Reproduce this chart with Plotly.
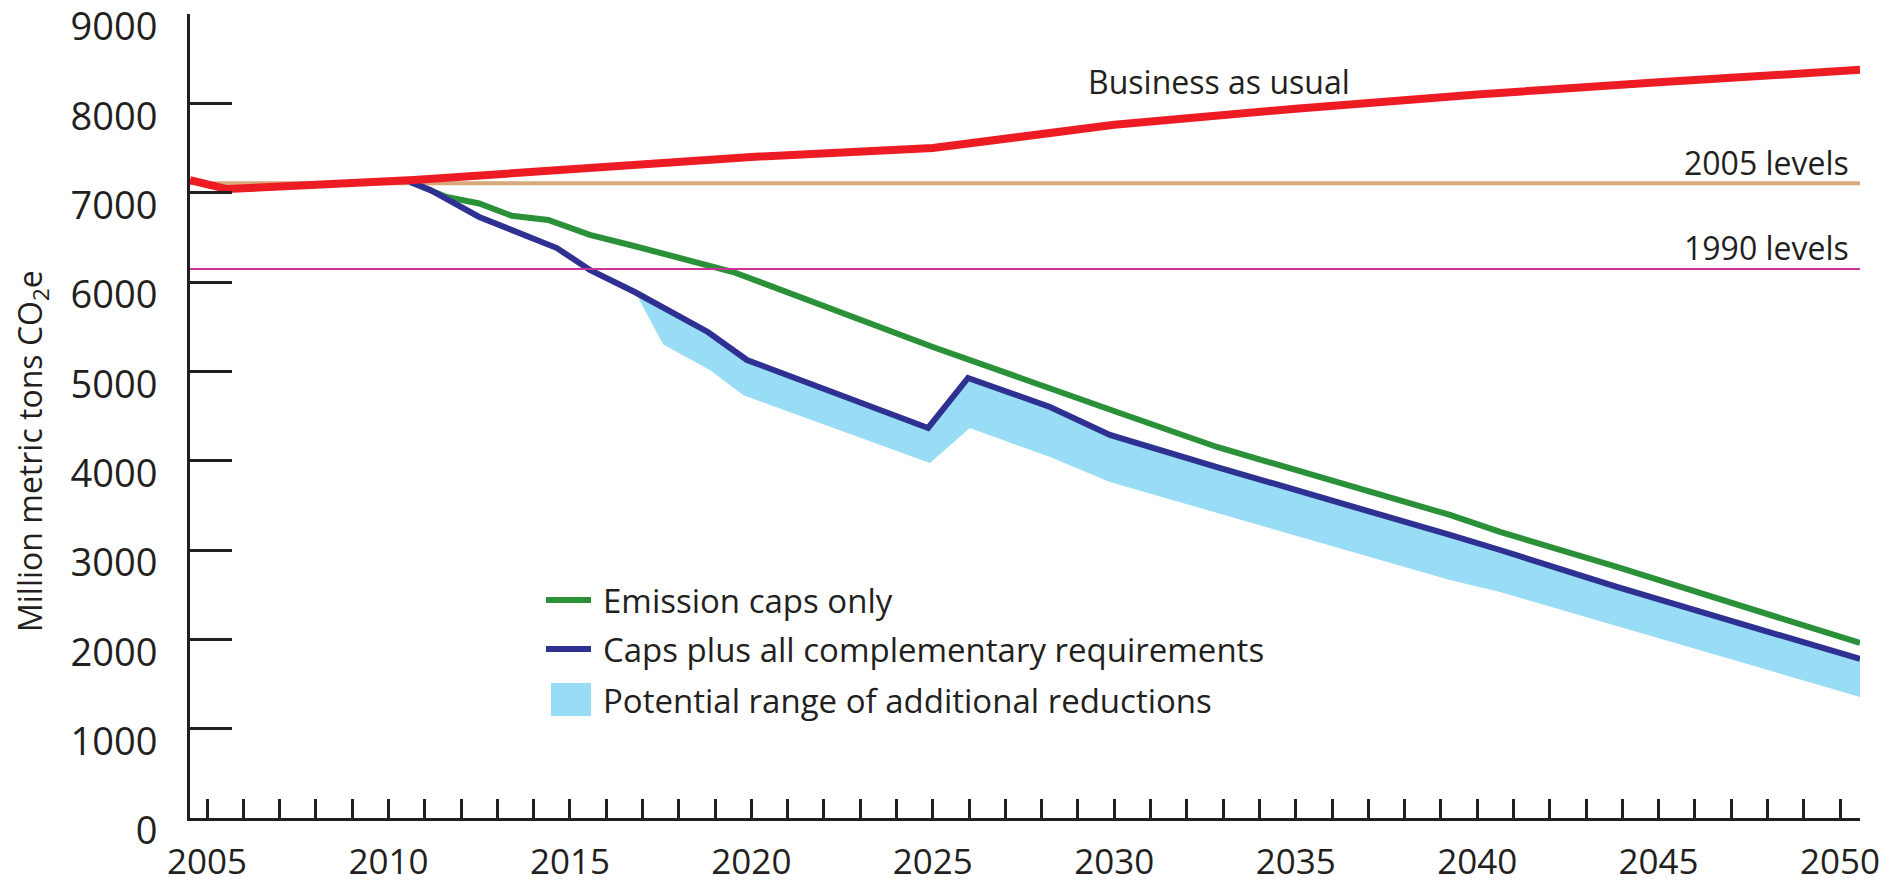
import plotly.graph_objects as go

# ---------------- data ----------------
bau_years = [2004.53, 2005.55, 2010.7, 2015, 2018, 2020, 2025, 2030, 2035, 2040, 2045, 2050.55]
bau_values = [7140, 7040, 7142, 7260, 7347, 7400, 7500, 7760, 7940, 8100, 8235, 8375]

level_years = [2004.53, 2050.55]
level_2005 = [7105, 7105]
level_1990 = [6145, 6145]

caps_years = [2010.6, 2011.6, 2012.5, 2013.4, 2014.4, 2014.8, 2015.55, 2016.66, 2018.03,
              2019.5, 2025.0, 2028.23, 2030.07, 2032.83, 2036.96, 2039.25, 2040.63,
              2043.85, 2050.55]
caps_values = [7120, 6952, 6879, 6741, 6694, 6638, 6527, 6414, 6269,
               6112, 5273, 4820, 4545, 4153, 3672, 3392, 3202,
               2810, 1959]

comp_years = [2010.6, 2011.15, 2012.5, 2013.9, 2014.64, 2015.55, 2016.8, 2018.8, 2019.88,
              2024.87, 2025.97, 2028.23, 2029.88, 2032.83, 2036.5, 2039.25, 2040.63,
              2043.85, 2050.55]
comp_values = [7120, 7030, 6728, 6504, 6380, 6135, 5885, 5441, 5127,
               4366, 4926, 4601, 4288, 3929, 3504, 3168, 3000,
               2586, 1780]

range_years = [2016.8, 2017.57, 2018.86, 2019.77, 2024.92, 2026.02, 2028.23, 2029.88,
               2039.25, 2040.63, 2050.55]
range_low = [5885, 5300, 5015, 4735, 3974, 4366, 4041, 3761, 2664, 2530, 1355]

x_tick_years = list(range(2005, 2051, 5))
y_tick_values = list(range(0, 9001, 1000))

legend_labels = ["Emission caps only",
                 "Caps plus all complementary requirements",
                 "Potential range of additional reductions"]

# ---------------- styles ----------------
INK = "#231f20"
RED = "#ed1c24"
GREEN = "#2b9139"
BLUE = "#2e3192"
BAND = "#98dcf6"
TAN = "#d6a87c"
MAGENTA = "#cc3399"
FONT = "Open Sans"

W, H = 1903, 889
L, R, T, B = 190, 43, 14, 71
PW, PH = W - L - R, H - T - B


def px_x(px):
    return (px - L) / PW


def px_y(py):
    return (H - B - py) / PH


# band polygon: lower edge forward, blue (upper) edge backward
upper = [(yr, v) for yr, v in zip(comp_years, comp_values) if yr >= range_years[0]]
band_x = range_years + [u[0] for u in upper][::-1]
band_y = range_low + [u[1] for u in upper][::-1]

fig = go.Figure()
fig.add_trace(go.Scatter(x=band_x, y=band_y, fill="toself", fillcolor=BAND,
                         mode="lines", line=dict(width=0), name=legend_labels[2],
                         hoverinfo="skip"))
fig.add_trace(go.Scatter(x=level_years, y=level_2005, mode="lines",
                         line=dict(color=TAN, width=4), name="2005 levels"))
fig.add_trace(go.Scatter(x=caps_years, y=caps_values, mode="lines",
                         line=dict(color=GREEN, width=6), name=legend_labels[0]))
fig.add_trace(go.Scatter(x=comp_years, y=comp_values, mode="lines",
                         line=dict(color=BLUE, width=6), name=legend_labels[1]))
fig.add_trace(go.Scatter(x=level_years, y=level_1990, mode="lines",
                         line=dict(color=MAGENTA, width=2), name="1990 levels"))
fig.add_trace(go.Scatter(x=bau_years, y=bau_values, mode="lines",
                         line=dict(color=RED, width=8), name="Business as usual"))

annotations = [
    dict(text="Business as usual", x=px_x(1219), y=px_y(82), xref="paper", yref="paper",
         xanchor="center", yanchor="middle", showarrow=False,
         font=dict(family=FONT, size=32, color=INK)),
    dict(text="2005 levels", x=px_x(1851), y=px_y(163), xref="paper", yref="paper",
         xanchor="right", yanchor="middle", showarrow=False,
         font=dict(family=FONT, size=32, color=INK)),
    dict(text="1990 levels", x=px_x(1851), y=px_y(247), xref="paper", yref="paper",
         xanchor="right", yanchor="middle", showarrow=False,
         font=dict(family=FONT, size=32, color=INK)),
    dict(text="Million metric tons CO<sub>2</sub>e", x=px_x(32), y=px_y(451),
         xref="paper", yref="paper", xanchor="center", yanchor="middle",
         textangle=-90, showarrow=False, font=dict(family=FONT, size=32, color=INK)),
]

# custom legend
leg_rows = [600, 649, 700]
shapes = [
    dict(type="line", xref="paper", yref="paper", x0=px_x(546), x1=px_x(591),
         y0=px_y(leg_rows[0]), y1=px_y(leg_rows[0]), line=dict(color=GREEN, width=6)),
    dict(type="line", xref="paper", yref="paper", x0=px_x(546), x1=px_x(591),
         y0=px_y(leg_rows[1]), y1=px_y(leg_rows[1]), line=dict(color=BLUE, width=6)),
    dict(type="rect", xref="paper", yref="paper", x0=px_x(551), x1=px_x(591),
         y0=px_y(716), y1=px_y(683), line=dict(width=0), fillcolor=BAND),
]
for row, label in zip(leg_rows, legend_labels):
    annotations.append(dict(text=label, x=px_x(601), y=px_y(row), xref="paper", yref="paper",
                            xanchor="left", yanchor="middle", showarrow=False,
                            font=dict(family=FONT, size=33, color=INK)))

fig.update_layout(
    width=W, height=H,
    margin=dict(l=L, r=R, t=T, b=B, autoexpand=False),
    paper_bgcolor="white", plot_bgcolor="white",
    showlegend=False,
    annotations=annotations,
    shapes=shapes,
    xaxis=dict(range=[2004.53, 2050.55], tickmode="array", tickvals=x_tick_years,
               ticktext=[str(v) for v in x_tick_years],
               ticks="inside", ticklen=19, tickwidth=2.5, tickcolor=INK,
               minor=dict(dtick=1, tick0=2005, ticks="inside", ticklen=19,
                          tickwidth=2.5, tickcolor=INK, showgrid=False),
               showline=True, linecolor=INK, linewidth=3,
               showgrid=False, zeroline=False, automargin=False,
               tickfont=dict(family=FONT, size=35, color=INK),
               ticklabelstandoff=11, ticklabeloverflow="allow"),
    yaxis=dict(range=[0, 9000], tickmode="array", tickvals=y_tick_values,
               ticktext=[str(v) for v in y_tick_values],
               ticks="inside", ticklen=42, tickwidth=3, tickcolor=INK,
               showline=True, linecolor=INK, linewidth=3,
               showgrid=False, zeroline=False, automargin=False,
               tickfont=dict(family=FONT, size=38, color=INK),
               ticklabelstandoff=22, ticklabelshift=13, ticklabeloverflow="allow"),
)

fig.write_html(
    "out.html",
    config={"displayModeBar": False},
    post_script=("document.body.style.margin='0';"
                 "document.body.style.overflow='hidden';"
                 "document.documentElement.style.overflow='hidden';"),
)
